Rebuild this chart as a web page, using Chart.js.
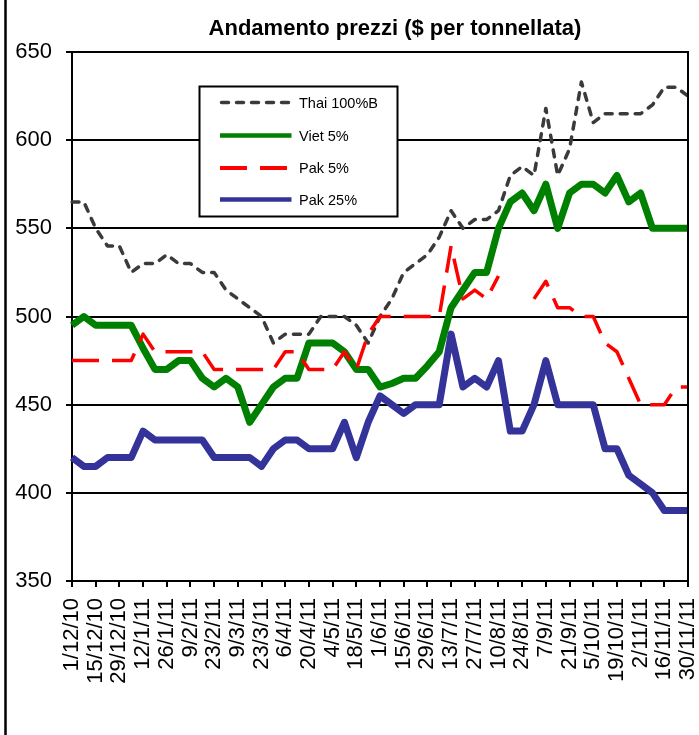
<!DOCTYPE html>
<html><head><meta charset="utf-8">
<script src="https://cdn.jsdelivr.net/npm/chart.js@4"></script>
<style>html,body{margin:0;padding:0;background:#fff}#wrap{width:699px;height:735px;position:relative}</style>
</head><body><div id="wrap"><canvas id="c" width="699" height="735"></canvas></div>
<script>
const categories = ['1/12/10','8/12/10','15/12/10','22/12/10','29/12/10','5/1/11','12/1/11','19/1/11','26/1/11',
  '2/2/11','9/2/11','16/2/11','23/2/11','2/3/11','9/3/11','16/3/11','23/3/11','30/3/11','6/4/11','13/4/11','20/4/11','27/4/11',
  '4/5/11','11/5/11','18/5/11','25/5/11','1/6/11','8/6/11','15/6/11','22/6/11','29/6/11','6/7/11','13/7/11','20/7/11','27/7/11',
  '3/8/11','10/8/11','17/8/11','24/8/11','31/8/11','7/9/11','14/9/11','21/9/11','28/9/11','5/10/11','12/10/11','19/10/11','26/10/11',
  '2/11/11','9/11/11','16/11/11','23/11/11','30/11/11'];
const thai100B = [565,565,550,540,540,525,530,530,535,530,530,525,525,515,510,505,500,485,490,490,490,500,500,500,495,485,500,510,525,530,535,545,560,550,555,555,560,580,585,580,618,580,595,633,610,615,615,615,615,620,630,630,625];
const viet5 = [495,500,495,495,495,495,482,470,470,475,475,465,460,465,460,440,450,460,465,465,485,485,485,480,470,470,460,462,465,465,472,480,505,515,525,525,550,565,570,560,575,550,570,575,575,570,580,565,570,550,550,550,550];
const pak5 = [475,475,475,475,475,475,490,480,480,480,480,480,470,470,470,470,470,470,480,480,470,470,470,480,470,490,500,500,500,500,500,500,540,510,515,510,523,null,null,510,520,505,505,500,500,485,480,465,450,450,450,460,460];
const pak25 = [420,415,415,420,420,420,435,430,430,430,430,430,420,420,420,420,415,425,430,430,425,425,425,440,420,440,455,450,445,450,450,450,490,460,465,460,475,435,435,450,475,450,450,450,450,425,425,410,405,400,390,390,390];
const seriesNames = ['Thai 100%B','Viet 5%','Pak 5%','Pak 25%'];
const yMin = 350, yMax = 650, yStep = 50;
const chartTitle = 'Andamento prezzi ($ per tonnellata)';

const FONT = "'Liberation Sans', Arial, sans-serif";
const datasets = [
  {label: seriesNames[0], data: thai100B, borderColor:'#3a3a3a', borderWidth:3.5, borderDash:[7,8], borderCapStyle:'round', borderJoinStyle:'round', order:3},
  {label: seriesNames[1], data: viet5, borderColor:'#008000', borderWidth:7, borderCapStyle:'butt', borderJoinStyle:'round', order:2},
  {label: seriesNames[2], data: pak5, borderColor:'#ff0000', borderWidth:3.5, borderDash:[27,13], borderCapStyle:'butt', borderJoinStyle:'round', order:1},
  {label: seriesNames[3], data: pak25, borderColor:'#333399', borderWidth:7, borderCapStyle:'butt', borderJoinStyle:'round', order:0}
];
const legendStyle = [
  {w:3.5, dash:[7,8], cap:'round'},
  {w:4.5, dash:[], cap:'butt'},
  {w:4, dash:[27,13], cap:'butt'},
  {w:4.5, dash:[], cap:'butt'}
];

const decor = {
  id:'decor',
  beforeDraw(chart){
    const c = chart.ctx;
    c.save(); c.fillStyle='#fff'; c.fillRect(0,0,chart.width,chart.height); c.restore();
  },
  afterDraw(chart){
    const c = chart.ctx, a = chart.chartArea;
    c.save();
    c.strokeStyle='#000'; c.lineWidth=2;
    c.beginPath(); c.moveTo(a.left, a.top); c.lineTo(a.right, a.top); c.lineTo(a.right, a.bottom); c.stroke();
    c.lineWidth=2.5; c.beginPath(); c.moveTo(5.5,0); c.lineTo(5.5,chart.height); c.stroke();
    c.fillStyle='#000'; c.font = "bold 22px " + FONT; c.textAlign='center'; c.textBaseline='alphabetic';
    c.fillText(chartTitle, 395, 35);
    const bx=199.5, by=86.5, bw=198, bh=130;
    c.fillStyle='#fff'; c.fillRect(bx,by,bw,bh);
    c.strokeStyle='#000'; c.lineWidth=2; c.strokeRect(bx,by,bw,bh);
    const rows=[102.5,135.5,168,199.5];
    chart.data.datasets.forEach((ds,i)=>{
      const st = legendStyle[i];
      c.save();
      c.strokeStyle=ds.borderColor; c.lineWidth=st.w; c.setLineDash(st.dash); c.lineCap=st.cap;
      const x0 = st.cap==='round' ? 221.5 : 220;
      c.beginPath(); c.moveTo(x0, rows[i]); c.lineTo(291.5, rows[i]); c.stroke();
      c.restore();
      c.fillStyle='#000'; c.font = "14.5px " + FONT; c.textAlign='left'; c.textBaseline='middle';
      c.fillText(ds.label, 299, rows[i]+1);
    });
    c.restore();
  }
};

new Chart(document.getElementById('c'), {
  type:'line',
  data:{labels:categories, datasets},
  options:{
    responsive:false, animation:false,
    layout:{padding:{top:52,right:11,left:0,bottom:0}},
    elements:{point:{radius:0,hoverRadius:0}, line:{tension:0}},
    plugins:{legend:{display:false}, title:{display:false}, tooltip:{enabled:false}},
    events:[],
    scales:{
      x:{
        type:'category',
        grid:{drawOnChartArea:false, drawTicks:true, tickLength:6, lineWidth:2,
          color:(ctx)=> (ctx.index % 2 === 0 ? '#000' : 'rgba(0,0,0,0)')},
        border:{display:true, color:'#000', width:2},
        ticks:{autoSkip:false, maxRotation:90, minRotation:90, padding:11, color:'#000',
          font:{size:22, family:FONT},
          callback:(v,i)=> (i % 2 === 0 ? categories[i] : '')},
        afterFit(scale){ scale.height = 154; scale.paddingLeft = 0; scale.paddingRight = 0; }
      },
      y:{
        min:yMin, max:yMax,
        grid:{color:'#000', lineWidth:2, tickLength:6, drawTicks:true},
        border:{display:true, color:'#000', width:2},
        ticks:{stepSize:yStep, padding:14, color:'#000', font:{size:22, family:FONT}},
        afterFit(scale){ scale.width = 72; scale.paddingTop = 0; scale.paddingBottom = 0; }
      }
    }
  },
  plugins:[decor]
});
</script>
</body></html>
